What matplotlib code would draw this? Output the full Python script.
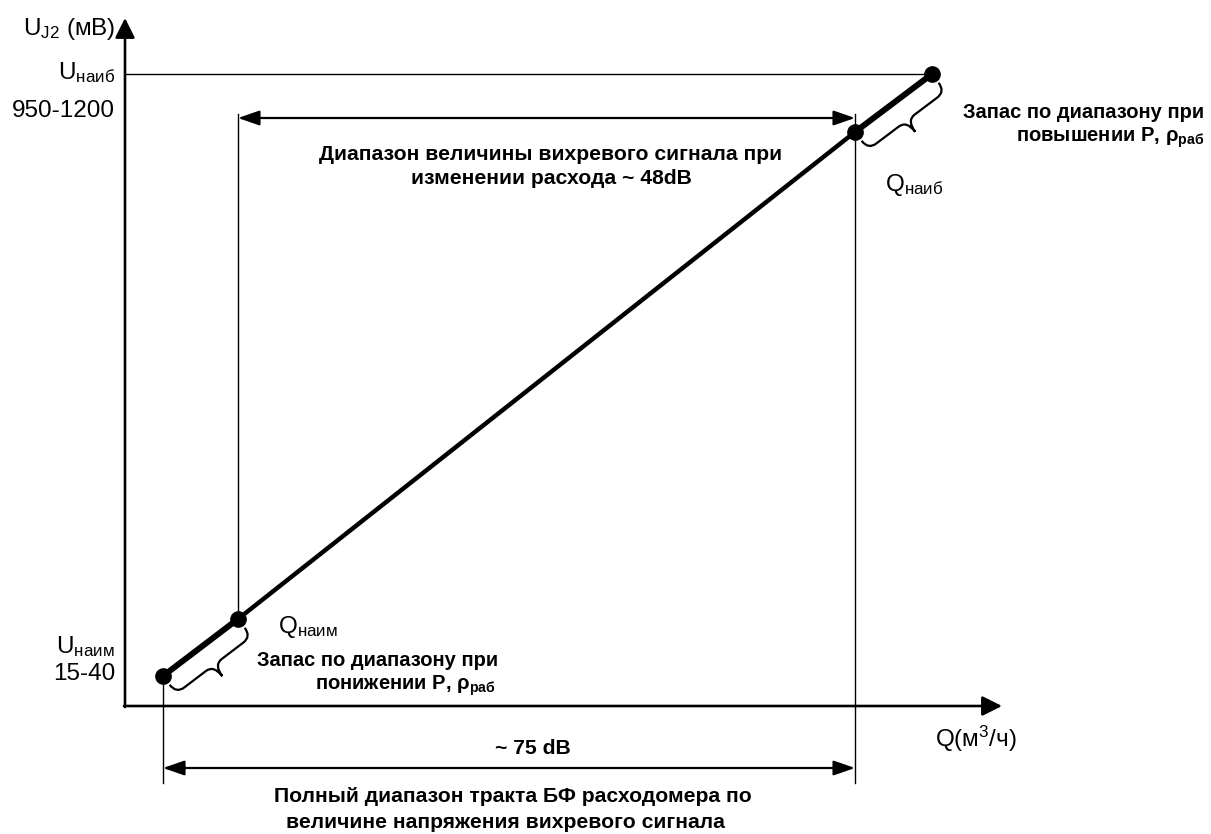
import matplotlib.pyplot as plt
import numpy as np
from matplotlib.path import Path
from matplotlib.patches import PathPatch

plt.rcParams['font.family'] = ['Liberation Sans', 'DejaVu Sans']
plt.rcParams['mathtext.fontset'] = 'custom'
plt.rcParams['mathtext.rm'] = 'Liberation Sans'
plt.rcParams['mathtext.it'] = 'Liberation Sans:italic'
plt.rcParams['mathtext.bf'] = 'Liberation Sans:bold'

# характерные точки характеристики (условные единицы, 0 - пересечение осей)
q_pts = [38, 113, 730, 807]    # начало, Qнаим, Qнаиб, конец
u_pts = [30, 87, 574, 632]     # Uнаим ... Uнаиб
q_axis_end = 877
u_axis_end = 688
arrow_top_u = 588     # стрелка "~48dB"
arrow_bot_u = -62     # стрелка "~75 dB"
guide_top = 592
guide_bottom = -77

fig = plt.figure(figsize=(12.11, 8.34), dpi=100)
ax = fig.add_axes([0, 0, 1, 1])
ax.set_xlim(-125, 1086)
ax.set_ylim(-128, 706)
ax.axis('off')

# оси
axis_arrow = dict(arrowstyle='-|>,head_length=1.2,head_width=0.6', mutation_scale=10,
                  lw=1.9, color='k', shrinkA=0, shrinkB=0)
ax.annotate('', xy=(0, u_axis_end), xytext=(0, -1), arrowprops=axis_arrow)
ax.annotate('', xy=(q_axis_end, 0), xytext=(-1, 0), arrowprops=axis_arrow)

# вспомогательные линии
ax.plot([0, q_pts[3]], [u_pts[3], u_pts[3]], color='k', lw=1.0)
ax.plot([q_pts[1], q_pts[1]], [u_pts[1], guide_top], color='k', lw=1.0)
ax.plot([q_pts[2], q_pts[2]], [guide_bottom, guide_top], color='k', lw=1.0)
ax.plot([q_pts[0], q_pts[0]], [guide_bottom, u_pts[0]], color='k', lw=1.0)

# размерные стрелки
dim = dict(arrowstyle='<|-|>,head_length=1.3,head_width=0.45', mutation_scale=10,
           lw=1.6, color='k', shrinkA=0, shrinkB=0)
ax.annotate('', xy=(q_pts[2], arrow_top_u), xytext=(q_pts[1], arrow_top_u), arrowprops=dim)
ax.annotate('', xy=(q_pts[2], arrow_bot_u), xytext=(q_pts[0], arrow_bot_u), arrowprops=dim)

# характеристика
ax.plot(q_pts[1:3], u_pts[1:3], color='k', lw=3.2, solid_capstyle='butt')
ax.plot(q_pts[0:2], u_pts[0:2], color='k', lw=4.3, solid_capstyle='butt')
ax.plot(q_pts[2:4], u_pts[2:4], color='k', lw=4.3, solid_capstyle='butt')
ax.plot(q_pts, u_pts, 'o', color='k', ms=11)


def brace(p0, p1, a=11, b=22, c=36, r=10):
    p0 = np.array(p0, float)
    p1 = np.array(p1, float)
    d = p1 - p0
    L = np.hypot(*d)
    t = d / L
    n = np.array([t[1], -t[0]])
    loc = [(0, a), (0, b), (r, b), (L / 2 - r, b), (L / 2, b), (L / 2, c),
           (L / 2, b), (L / 2 + r, b), (L - r, b), (L, b), (L, a)]
    codes = [Path.MOVETO, Path.CURVE3, Path.CURVE3, Path.LINETO, Path.CURVE3, Path.CURVE3,
             Path.CURVE3, Path.CURVE3, Path.LINETO, Path.CURVE3, Path.CURVE3]
    verts = [p0 + u * t + v * n for u, v in loc]
    ax.add_patch(PathPatch(Path(verts, codes), fill=False, lw=1.6, color='k'))


brace((q_pts[0], u_pts[0]), (q_pts[1], u_pts[1]))
brace((q_pts[2], u_pts[2]), (q_pts[3], u_pts[3]))

# подписи осей
fs = 17.5
ax.text(-10, 677, 'U$_{\\mathrm{J2}}$ (мВ)', ha='right', va='center', fontsize=fs)
ax.text(-10, 633, 'U$_{\\mathrm{наиб}}$', ha='right', va='center', fontsize=fs)
ax.text(-10, 595, '950-1200', ha='right', va='center', fontsize=fs)
ax.text(-10, 59, 'U$_{\\mathrm{наим}}$', ha='right', va='center', fontsize=fs)
ax.text(-10, 32, '15-40', ha='right', va='center', fontsize=fs)
ax.text(760, 521, 'Q$_{\\mathrm{наиб}}$', ha='left', va='center', fontsize=fs)
ax.text(153, 79, 'Q$_{\\mathrm{наим}}$', ha='left', va='center', fontsize=fs)
ax.text(810, -33, 'Q(м$^{\\mathrm{3}}$/ч)', ha='left', va='center', fontsize=fs)

# пояснения
bs = 14.5
ax.text(1079, 594, 'Запас по диапазону при', ha='right', va='center', fontsize=bs, fontweight='bold')
ax.text(1079, 568, 'повышении P, ρ$_{\\mathbf{раб}}$', ha='right', va='center', fontsize=bs, fontweight='bold')
ax.text(132, 45, 'Запас по диапазону при', ha='left', va='center', fontsize=bs, fontweight='bold')
ax.text(190, 20, 'понижении P, ρ$_{\\mathbf{раб}}$', ha='left', va='center', fontsize=bs, fontweight='bold')

ns = 15.2
ax.text(426, 552, 'Диапазон величины вихревого сигнала при', ha='center', va='center',
        fontsize=ns, fontweight='bold')
ax.text(426, 528, 'изменении расхода ~ 48dB', ha='center', va='center',
        fontsize=ns, fontweight='bold')
ax.text(408, -42, '~ 75 dB', ha='center', va='center', fontsize=ns, fontweight='bold')
ax.text(388, -91, 'Полный диапазон тракта БФ расходомера по', ha='center', va='center',
        fontsize=ns, fontweight='bold')
ax.text(380, -116, 'величине напряжения вихревого сигнала', ha='center', va='center',
        fontsize=ns, fontweight='bold')

fig.savefig('out.png', dpi=100)
